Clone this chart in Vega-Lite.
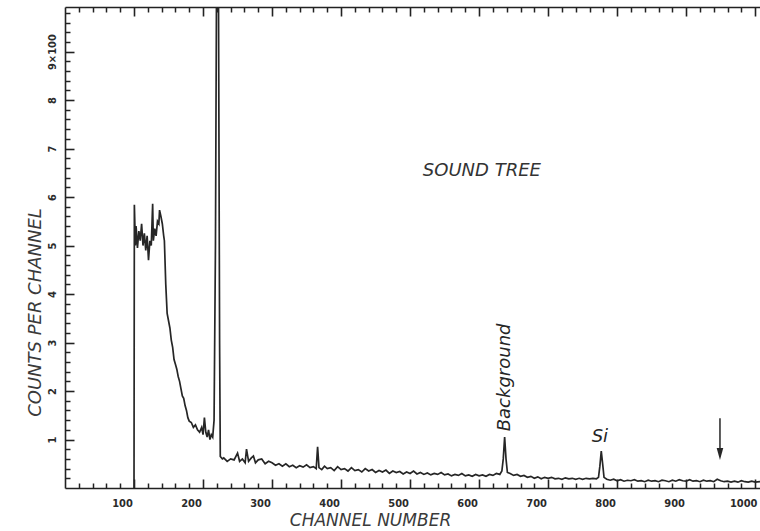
{
  "$schema": "https://vega.github.io/schema/vega-lite/v6.json",
  "width": 695,
  "height": 481,
  "autosize": {"type": "none"},
  "padding": {"left": 65, "top": 7, "right": 0, "bottom": 43},
  "background": "#ffffff",
  "config": {
    "view": {"stroke": null},
    "axis": {
      "grid": false,
      "labelColor": "#2b2b2b",
      "titleColor": "#3a3a3a",
      "labelFont": "DejaVu Sans Condensed, DejaVu Sans",
      "labelFontWeight": "bold",
      "labelFontSize": 11,
      "titleFont": "DejaVu Sans",
      "titleFontStyle": "italic",
      "titleFontWeight": "normal",
      "titleFontSize": 17
    }
  },
  "resolve": {"axis": {"x": "independent", "y": "independent"}},
  "datasets": {
    "spec": [
      {"ch": 100, "counts": 0},
      {"ch": 100.5, "counts": 5.84},
      {"ch": 102, "counts": 5.0},
      {"ch": 103, "counts": 5.4},
      {"ch": 105, "counts": 4.95},
      {"ch": 107, "counts": 5.3},
      {"ch": 109, "counts": 5.1},
      {"ch": 111, "counts": 5.45},
      {"ch": 113, "counts": 5.0},
      {"ch": 115, "counts": 5.25},
      {"ch": 117, "counts": 4.9},
      {"ch": 119, "counts": 5.2},
      {"ch": 121, "counts": 4.7},
      {"ch": 123, "counts": 5.1},
      {"ch": 125, "counts": 5.0},
      {"ch": 127, "counts": 5.86},
      {"ch": 128, "counts": 5.1},
      {"ch": 130, "counts": 5.35},
      {"ch": 132, "counts": 5.2},
      {"ch": 134, "counts": 5.5},
      {"ch": 136, "counts": 5.45},
      {"ch": 137, "counts": 5.73},
      {"ch": 139, "counts": 5.6},
      {"ch": 141, "counts": 5.45},
      {"ch": 143, "counts": 5.2},
      {"ch": 144, "counts": 5.1},
      {"ch": 146, "counts": 4.2},
      {"ch": 148, "counts": 3.6},
      {"ch": 150, "counts": 3.45},
      {"ch": 152, "counts": 3.3},
      {"ch": 154, "counts": 3.05},
      {"ch": 156, "counts": 2.9},
      {"ch": 158, "counts": 2.65},
      {"ch": 160, "counts": 2.55},
      {"ch": 162, "counts": 2.45},
      {"ch": 164, "counts": 2.3},
      {"ch": 166, "counts": 2.2},
      {"ch": 168, "counts": 2.05},
      {"ch": 170, "counts": 1.9},
      {"ch": 172, "counts": 1.85},
      {"ch": 174, "counts": 1.7},
      {"ch": 176, "counts": 1.6},
      {"ch": 178, "counts": 1.45},
      {"ch": 180, "counts": 1.38},
      {"ch": 183, "counts": 1.35},
      {"ch": 186, "counts": 1.25},
      {"ch": 189, "counts": 1.3},
      {"ch": 192, "counts": 1.2},
      {"ch": 195, "counts": 1.15},
      {"ch": 198, "counts": 1.25},
      {"ch": 200, "counts": 1.1},
      {"ch": 202, "counts": 1.45},
      {"ch": 204, "counts": 1.15},
      {"ch": 206, "counts": 1.05},
      {"ch": 208, "counts": 1.2},
      {"ch": 210, "counts": 1.0},
      {"ch": 212, "counts": 1.1},
      {"ch": 214, "counts": 1.05},
      {"ch": 216, "counts": 1.4},
      {"ch": 218, "counts": 5.0},
      {"ch": 220, "counts": 12},
      {"ch": 222, "counts": 12},
      {"ch": 224, "counts": 3.0},
      {"ch": 225, "counts": 0.65},
      {"ch": 228, "counts": 0.6},
      {"ch": 230, "counts": 0.62},
      {"ch": 235, "counts": 0.55},
      {"ch": 240, "counts": 0.6},
      {"ch": 245, "counts": 0.58},
      {"ch": 250, "counts": 0.72},
      {"ch": 253, "counts": 0.55},
      {"ch": 257, "counts": 0.6},
      {"ch": 261, "counts": 0.52},
      {"ch": 263, "counts": 0.8},
      {"ch": 266, "counts": 0.55},
      {"ch": 270, "counts": 0.62},
      {"ch": 273, "counts": 0.66},
      {"ch": 276, "counts": 0.52},
      {"ch": 280, "counts": 0.58},
      {"ch": 285, "counts": 0.6},
      {"ch": 290, "counts": 0.5},
      {"ch": 295, "counts": 0.55},
      {"ch": 300, "counts": 0.52},
      {"ch": 305, "counts": 0.47},
      {"ch": 310, "counts": 0.5},
      {"ch": 315, "counts": 0.45},
      {"ch": 320, "counts": 0.5},
      {"ch": 325, "counts": 0.44},
      {"ch": 330, "counts": 0.47},
      {"ch": 335, "counts": 0.42},
      {"ch": 340, "counts": 0.46},
      {"ch": 345, "counts": 0.43},
      {"ch": 350, "counts": 0.48},
      {"ch": 355, "counts": 0.42},
      {"ch": 360, "counts": 0.44},
      {"ch": 364, "counts": 0.4},
      {"ch": 366, "counts": 0.85},
      {"ch": 368, "counts": 0.42},
      {"ch": 372, "counts": 0.38},
      {"ch": 376, "counts": 0.45},
      {"ch": 380, "counts": 0.4},
      {"ch": 385, "counts": 0.42},
      {"ch": 390, "counts": 0.36},
      {"ch": 395, "counts": 0.44},
      {"ch": 400, "counts": 0.38},
      {"ch": 405, "counts": 0.4},
      {"ch": 410, "counts": 0.35},
      {"ch": 415, "counts": 0.42},
      {"ch": 420, "counts": 0.36},
      {"ch": 425, "counts": 0.38},
      {"ch": 430, "counts": 0.33},
      {"ch": 435, "counts": 0.4},
      {"ch": 440, "counts": 0.35},
      {"ch": 445, "counts": 0.38},
      {"ch": 450, "counts": 0.32},
      {"ch": 455, "counts": 0.36},
      {"ch": 460, "counts": 0.33},
      {"ch": 465, "counts": 0.37},
      {"ch": 470, "counts": 0.3},
      {"ch": 475, "counts": 0.35},
      {"ch": 480, "counts": 0.32},
      {"ch": 485, "counts": 0.34},
      {"ch": 490, "counts": 0.29},
      {"ch": 495, "counts": 0.33},
      {"ch": 500, "counts": 0.3},
      {"ch": 505, "counts": 0.35},
      {"ch": 510, "counts": 0.29},
      {"ch": 515, "counts": 0.32},
      {"ch": 520, "counts": 0.28},
      {"ch": 525, "counts": 0.31},
      {"ch": 530, "counts": 0.27},
      {"ch": 535, "counts": 0.3},
      {"ch": 540, "counts": 0.28},
      {"ch": 545, "counts": 0.32},
      {"ch": 550, "counts": 0.27},
      {"ch": 555, "counts": 0.29},
      {"ch": 560, "counts": 0.25},
      {"ch": 565, "counts": 0.28},
      {"ch": 570, "counts": 0.26},
      {"ch": 575, "counts": 0.3},
      {"ch": 580, "counts": 0.25},
      {"ch": 585, "counts": 0.27},
      {"ch": 590, "counts": 0.24},
      {"ch": 595, "counts": 0.28},
      {"ch": 600, "counts": 0.25},
      {"ch": 605, "counts": 0.27},
      {"ch": 610, "counts": 0.24},
      {"ch": 615, "counts": 0.28},
      {"ch": 620, "counts": 0.26},
      {"ch": 625, "counts": 0.3},
      {"ch": 630, "counts": 0.28},
      {"ch": 633, "counts": 0.35},
      {"ch": 635, "counts": 0.6},
      {"ch": 637, "counts": 1.05},
      {"ch": 639, "counts": 0.6},
      {"ch": 641, "counts": 0.32},
      {"ch": 645, "counts": 0.3},
      {"ch": 650, "counts": 0.26},
      {"ch": 655, "counts": 0.28},
      {"ch": 660, "counts": 0.24},
      {"ch": 665, "counts": 0.26},
      {"ch": 670, "counts": 0.22},
      {"ch": 675, "counts": 0.24},
      {"ch": 680, "counts": 0.2},
      {"ch": 685, "counts": 0.23},
      {"ch": 690, "counts": 0.19},
      {"ch": 695, "counts": 0.22},
      {"ch": 700, "counts": 0.2},
      {"ch": 705, "counts": 0.22},
      {"ch": 710, "counts": 0.19},
      {"ch": 715, "counts": 0.2},
      {"ch": 720, "counts": 0.18},
      {"ch": 725, "counts": 0.21},
      {"ch": 730, "counts": 0.19},
      {"ch": 735, "counts": 0.2},
      {"ch": 740, "counts": 0.18},
      {"ch": 745, "counts": 0.2},
      {"ch": 750, "counts": 0.18},
      {"ch": 755, "counts": 0.2},
      {"ch": 760, "counts": 0.19},
      {"ch": 765, "counts": 0.2},
      {"ch": 770, "counts": 0.19},
      {"ch": 773, "counts": 0.22},
      {"ch": 775, "counts": 0.45},
      {"ch": 777, "counts": 0.76},
      {"ch": 779, "counts": 0.5},
      {"ch": 781, "counts": 0.22},
      {"ch": 785, "counts": 0.18},
      {"ch": 790, "counts": 0.16},
      {"ch": 795, "counts": 0.18},
      {"ch": 800, "counts": 0.15},
      {"ch": 805, "counts": 0.17},
      {"ch": 810, "counts": 0.14},
      {"ch": 815, "counts": 0.16},
      {"ch": 820, "counts": 0.15},
      {"ch": 825, "counts": 0.17},
      {"ch": 830, "counts": 0.14},
      {"ch": 835, "counts": 0.15},
      {"ch": 840, "counts": 0.13},
      {"ch": 845, "counts": 0.16},
      {"ch": 850, "counts": 0.14},
      {"ch": 855, "counts": 0.15},
      {"ch": 860, "counts": 0.13},
      {"ch": 865, "counts": 0.16},
      {"ch": 870, "counts": 0.15},
      {"ch": 875, "counts": 0.13},
      {"ch": 880, "counts": 0.16},
      {"ch": 885, "counts": 0.14},
      {"ch": 890, "counts": 0.17},
      {"ch": 895, "counts": 0.15},
      {"ch": 900, "counts": 0.14},
      {"ch": 905, "counts": 0.17},
      {"ch": 910, "counts": 0.14},
      {"ch": 915, "counts": 0.15},
      {"ch": 920, "counts": 0.13},
      {"ch": 925, "counts": 0.16},
      {"ch": 930, "counts": 0.14},
      {"ch": 935, "counts": 0.15},
      {"ch": 940, "counts": 0.13},
      {"ch": 945, "counts": 0.18},
      {"ch": 950, "counts": 0.15},
      {"ch": 955, "counts": 0.13},
      {"ch": 960, "counts": 0.14},
      {"ch": 965, "counts": 0.12},
      {"ch": 970, "counts": 0.14},
      {"ch": 975, "counts": 0.12},
      {"ch": 980, "counts": 0.15},
      {"ch": 985, "counts": 0.13},
      {"ch": 990, "counts": 0.12},
      {"ch": 995, "counts": 0.14},
      {"ch": 1000, "counts": 0.12},
      {"ch": 1007, "counts": 0.13}
    ],
    "bg": [{"ch": 638, "counts": 1.17, "label": "Background"}],
    "si": [{"ch": 775, "counts": 1.05, "label": "Si"}],
    "arrowShaft": [{"ch": 949, "top": 1.44, "bottom": 0.8}],
    "arrowHead": [{"ch": 949, "counts": 0.7}],
    "caption": [{"ch": 604, "counts": 6.54, "label": "SOUND TREE"}]
  },
  "layer": [
    {
      "data": {"name": "spec"},
      "mark": {"type": "line", "color": "#262626", "strokeWidth": 1.7, "clip": true, "interpolate": "linear"},
      "encoding": {
        "x": {
          "field": "ch", "type": "quantitative",
          "scale": {"domain": [0, 1007], "nice": false, "zero": false},
          "axis": {
            "orient": "bottom",
            "domain": true, "domainColor": "#222222", "domainWidth": 1.6,
            "ticks": true, "tickColor": "#222222", "tickWidth": 1.6, "tickSize": -9,
            "values": [100, 200, 300, 400, 500, 600, 700, 800, 900, 1000],
            "format": "d",
            "labelPadding": 18,
            "labelOffset": -12,
            "labelFlush": false,
            "labelOverlap": false,
            "title": "CHANNEL NUMBER",
            "titleX": 305,
            "titleY": 32,
            "titleAlign": "center",
            "titleBaseline": "middle",
            "titleAnchor": null
          }
        },
        "y": {
          "field": "counts", "type": "quantitative",
          "scale": {"domain": [0, 9.92], "nice": false, "zero": true},
          "axis": {
            "orient": "left",
            "domain": true, "domainColor": "#222222", "domainWidth": 1.6,
            "ticks": true, "tickColor": "#222222", "tickWidth": 1.6, "tickSize": -9,
            "values": [1, 2, 3, 4, 5, 6, 7, 8, 9],
            "labelPadding": 17,
            "labelAngle": 270,
            "labelAlign": "center",
            "labelBaseline": "bottom",
            "labelFlush": false,
            "labelOverlap": false,
            "labelExpr": "datum.value == 9 ? '9×100' : datum.label",
            "title": "COUNTS PER CHANNEL",
            "titleAngle": 270,
            "titleX": -30,
            "titleY": 305,
            "titleAlign": "center",
            "titleBaseline": "middle",
            "titleAnchor": null,
            "titleFontSize": 18
          }
        }
      }
    },
    {
      "data": {"name": "bg"},
      "mark": {"type": "text", "angle": 270, "align": "left", "baseline": "middle", "font": "DejaVu Sans", "fontStyle": "italic", "fontSize": 18, "color": "#262626"},
      "encoding": {
        "x": {
          "field": "ch", "type": "quantitative",
          "axis": {
            "orient": "bottom",
            "domain": false,
            "ticks": true, "tickColor": "#222222", "tickWidth": 1.5, "tickSize": -5,
            "values": [20, 40, 60, 80, 120, 140, 160, 180, 220, 240, 260, 280, 320, 340, 360, 380, 420, 440, 460, 480, 520, 540, 560, 580, 620, 640, 660, 680, 720, 740, 760, 780, 820, 840, 860, 880, 920, 940, 960, 980],
            "labels": false,
            "title": null
          }
        },
        "y": {
          "field": "counts", "type": "quantitative",
          "axis": {
            "orient": "left",
            "domain": false,
            "ticks": true, "tickColor": "#222222", "tickWidth": 1.5, "tickSize": -5,
            "values": [0.2, 0.4, 0.6, 0.8, 1.2, 1.4, 1.6, 1.8, 2.2, 2.4, 2.6, 2.8, 3.2, 3.4, 3.6, 3.8, 4.2, 4.4, 4.6, 4.8, 5.2, 5.4, 5.6, 5.8, 6.2, 6.4, 6.6, 6.8, 7.2, 7.4, 7.6, 7.8, 8.2, 8.4, 8.6, 8.8, 9.2, 9.4, 9.6, 9.8],
            "labels": false,
            "title": null
          }
        },
        "text": {"field": "label"}
      }
    },
    {
      "data": {"name": "si"},
      "mark": {"type": "text", "align": "center", "baseline": "middle", "font": "DejaVu Sans", "fontStyle": "italic", "fontSize": 18, "color": "#262626"},
      "encoding": {
        "x": {"field": "ch", "type": "quantitative", "axis": null},
        "y": {"field": "counts", "type": "quantitative", "axis": null},
        "text": {"field": "label"}
      }
    },
    {
      "data": {"name": "arrowShaft"},
      "mark": {"type": "rule", "color": "#262626", "strokeWidth": 1.5},
      "encoding": {
        "x": {
          "field": "ch", "type": "quantitative",
          "axis": {
            "orient": "top",
            "domain": true, "domainColor": "#222222", "domainWidth": 1.6,
            "ticks": true, "tickColor": "#222222", "tickWidth": 1.6, "tickSize": -9,
            "values": [100, 200, 300, 400, 500, 600, 700, 800, 900, 1000],
            "labels": false,
            "title": null
          }
        },
        "y": {"field": "top", "type": "quantitative", "axis": null},
        "y2": {"field": "bottom"}
      }
    },
    {
      "data": {"name": "arrowHead"},
      "mark": {"type": "point", "shape": "M -0.55 -1 L 0.55 -1 L 0 1 Z", "filled": true, "size": 144, "color": "#262626", "opacity": 1},
      "encoding": {
        "x": {
          "field": "ch", "type": "quantitative",
          "axis": {
            "orient": "top",
            "domain": false,
            "ticks": true, "tickColor": "#222222", "tickWidth": 1.5, "tickSize": -5,
            "values": [20, 40, 60, 80, 120, 140, 160, 180, 220, 240, 260, 280, 320, 340, 360, 380, 420, 440, 460, 480, 520, 540, 560, 580, 620, 640, 660, 680, 720, 740, 760, 780, 820, 840, 860, 880, 920, 940, 960, 980],
            "labels": false,
            "title": null
          }
        },
        "y": {"field": "counts", "type": "quantitative", "axis": null}
      }
    },
    {
      "data": {"name": "caption"},
      "mark": {"type": "text", "align": "center", "baseline": "middle", "font": "DejaVu Sans", "fontStyle": "italic", "fontSize": 18, "color": "#333333"},
      "encoding": {
        "x": {"field": "ch", "type": "quantitative", "axis": null},
        "y": {"field": "counts", "type": "quantitative", "axis": null},
        "text": {"field": "label"}
      }
    }
  ]
}
